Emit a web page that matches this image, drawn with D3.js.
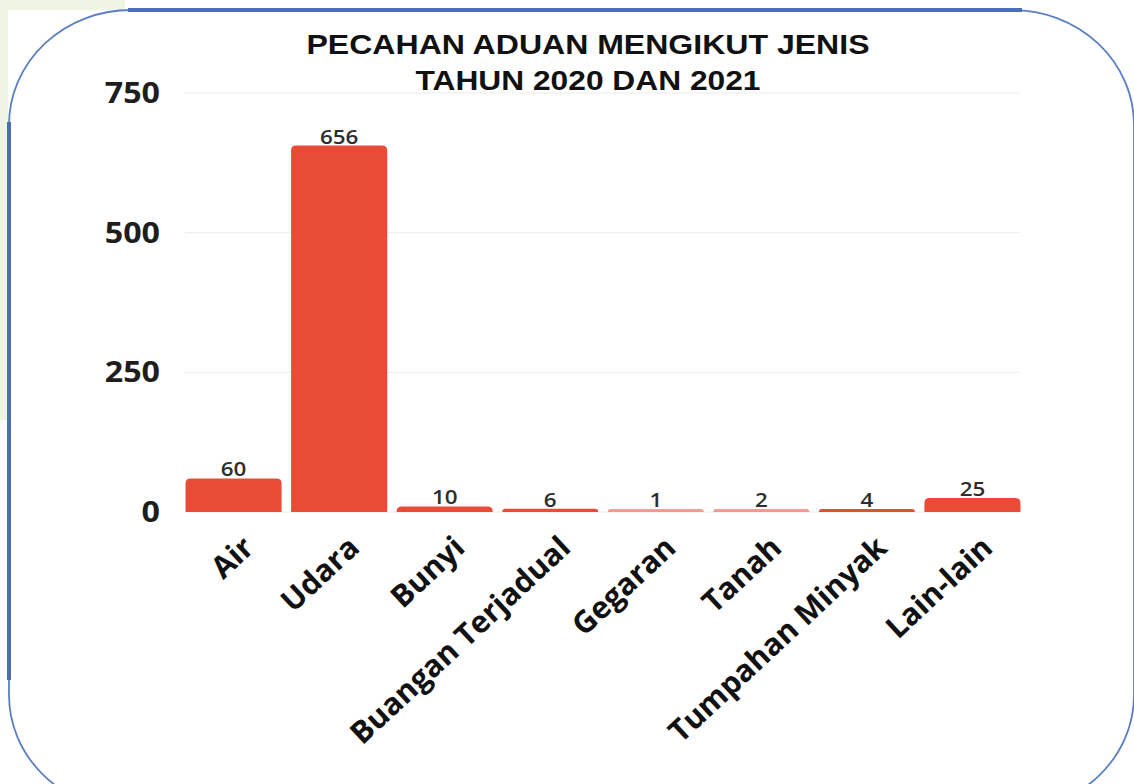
<!DOCTYPE html>
<html>
<head>
<meta charset="utf-8">
<script src="https://cdn.jsdelivr.net/npm/d3@7"></script>
<style>
body{margin:0;background:#fff;}
svg{display:block;}
</style>
</head>
<body>
<svg id="chart" width="1134" height="784"></svg>
<script>
var categories = ["Air","Udara","Bunyi","Buangan Terjadual","Gegaran","Tanah","Tumpahan Minyak","Lain-lain"];
var values = [60,656,10,6,1,2,4,25];
var yTicks = [0,250,500,750];
var titleLines = ["PECAHAN ADUAN MENGIKUT JENIS","TAHUN 2020 DAN 2021"];

var svg = d3.select("#chart");

// page bits outside the frame
svg.append("rect").attr("x",0).attr("y",0).attr("width",125).attr("height",10).attr("fill","#eef5e3");
svg.append("rect").attr("x",0).attr("y",0).attr("width",8).attr("height",420).attr("fill","#eef5e3");

// rounded frame, thin on the corners and heavier on the straight edges
svg.append("rect")
    .attr("x",9).attr("y",10).attr("width",1125).attr("height",800)
    .attr("rx",122).attr("ry",115)
    .attr("fill","#fff").attr("stroke","#5a7fc4").attr("stroke-width",1.8);
svg.append("line").attr("x1",128).attr("x2",1022).attr("y1",10).attr("y2",10)
    .attr("stroke","#4a6fb7").attr("stroke-width",4);
svg.append("line").attr("x1",9).attr("x2",9).attr("y1",122).attr("y2",680)
    .attr("stroke","#4a6fb7").attr("stroke-width",4);

var x = d3.scaleBand().domain(categories).range([185,1021]).paddingInner(0.09).paddingOuter(0.005),
    y = d3.scaleLinear().domain([0,750]).range([512,93]);

var g = svg.append("g");

g.selectAll("line.grid").data(yTicks).enter().append("line")
    .attr("x1",185).attr("x2",1020)
    .attr("y1",d=>y(d)).attr("y2",d=>y(d))
    .attr("stroke","#ececec").attr("stroke-width",1);

g.selectAll("text.ytick").data(yTicks).enter().append("text")
    .attr("transform",d=>"translate(160,"+y(d)+") scale(1.15,1)")
    .attr("dy","0.36em")
    .attr("text-anchor","end")
    .attr("font-family","Open Sans")
    .attr("font-weight",700)
    .attr("font-size",28)
    .attr("fill","#1e1e1e")
    .text(d=>d);

// bars with rounded tops
function barPath(d,i){
    var x0 = x(categories[i]), w = x.bandwidth(),
        h = Math.max(y(0)-y(d),3), r = Math.min(5,h),
        top = y(0)-h;
    return "M"+x0+","+y(0)+
        "V"+(top+r)+
        "Q"+x0+","+top+" "+(x0+r)+","+top+
        "H"+(x0+w-r)+
        "Q"+(x0+w)+","+top+" "+(x0+w)+","+(top+r)+
        "V"+y(0)+"Z";
}
g.selectAll("path.bar").data(values).enter().append("path")
    .attr("d",barPath)
    .attr("fill","#e84c36")
    .attr("opacity",(d)=>d<3?0.55:1);

g.selectAll("text.val").data(values).enter().append("text")
    .attr("transform",(d,i)=>"translate("+(x(categories[i])+x.bandwidth()/2)+","+(Math.min(y(d),y(0)-3)-2)+") scale(1.12,1)")
    .attr("text-anchor","middle")
    .attr("font-family","Open Sans")
    .attr("font-weight",600)
    .attr("font-size",20)
    .attr("fill","#2e2e2e")
    .text(d=>d);

g.selectAll("text.xlab").data(categories).enter().append("text")
    .attr("transform",d=>"translate("+(x(d)+x.bandwidth()/2+22)+",550) rotate(-43)")
    .attr("text-anchor","end")
    .attr("font-family","Open Sans")
    .attr("font-weight",700)
    .attr("font-size",30.5)
    .attr("fill","#111")
    .text(d=>d);

svg.selectAll("text.title").data(titleLines).enter().append("text")
    .attr("x",588).attr("y",(d,i)=>54+i*36)
    .attr("text-anchor","middle")
    .attr("font-family","Liberation Sans")
    .attr("font-weight",700)
    .attr("font-size",28)
    .attr("textLength",(d,i)=>i===0?563:345)
    .attr("lengthAdjust","spacingAndGlyphs")
    .attr("fill","#111")
    .text(d=>d);
</script>
</body>
</html>
